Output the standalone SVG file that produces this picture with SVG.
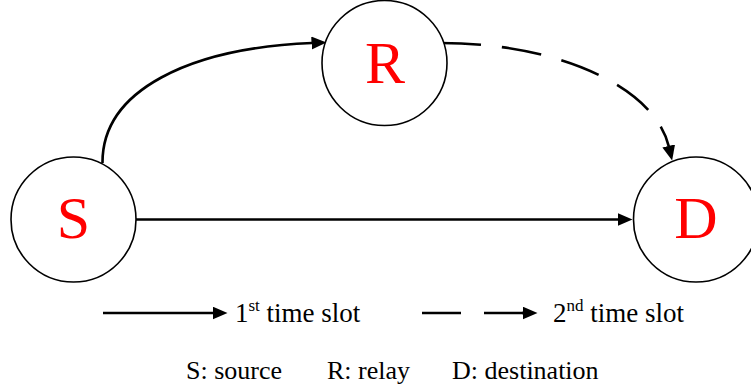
<svg xmlns="http://www.w3.org/2000/svg" width="751" height="387" viewBox="0 0 751 387">
<style>
.node{fill:#fff;stroke:#000;stroke-width:1.6}
.lbl{font-size:60px;fill:#ff0000;text-anchor:middle}
.edge{fill:none;stroke:#000;stroke-width:2.6}
.dash{stroke-dasharray:40 21}
.txt{font-size:26px;fill:#000}
.leg{font-size:27px}
</style>
<defs>
<marker id="ah" markerUnits="userSpaceOnUse" markerWidth="16" markerHeight="14" refX="0.5" refY="6.5" orient="auto" viewBox="0 0 16 14">
<path d="M0,0 L15,6.5 L0,13 Z" fill="#000"/>
</marker>
</defs>
<g id="connectors">
<path class="edge" d="M102.5,163 C102,90 190,48 312,43" marker-end="url(#ah)"/>
<path class="edge dash" d="M441,43 C560,43 655,88 668.8,146.4" marker-end="url(#ah)"/>
<path class="edge" d="M136,219.5 L618,219.5" marker-end="url(#ah)"/>
</g>
<g font-family="'Liberation Serif', 'Times New Roman', 'DejaVu Serif', serif">
<g id="node-S">
<circle class="node" cx="73.5" cy="219.5" r="62.5"/>
<text class="lbl" x="73.5" y="238">S</text>
</g>
<g id="node-R">
<circle class="node" cx="384.5" cy="63" r="62.5"/>
<text class="lbl" x="385" y="83">R</text>
</g>
<g id="node-D">
<circle class="node" cx="696" cy="219.5" r="62.5"/>
<text class="lbl" x="696" y="238">D</text>
</g>
<g id="legend">
<path class="edge" d="M103,313 L213,313" marker-end="url(#ah)"/>
<text class="txt leg" x="235" y="322">1<tspan font-size="17" dy="-11">st</tspan><tspan dy="11"> time slot</tspan></text>
<path class="edge" d="M422,313 L461,313 M484,313 L523,313"/>
<path class="edge" d="M522,313 L523,313" marker-end="url(#ah)"/>
<text class="txt leg" x="553" y="322">2<tspan font-size="17" dy="-11">nd</tspan><tspan dy="11"> time slot</tspan></text>
<text class="txt" x="186" y="379">S: source</text>
<text class="txt" x="327" y="379">R: relay</text>
<text class="txt" x="452" y="379">D: destination</text>
</g>
</g>
</svg>
